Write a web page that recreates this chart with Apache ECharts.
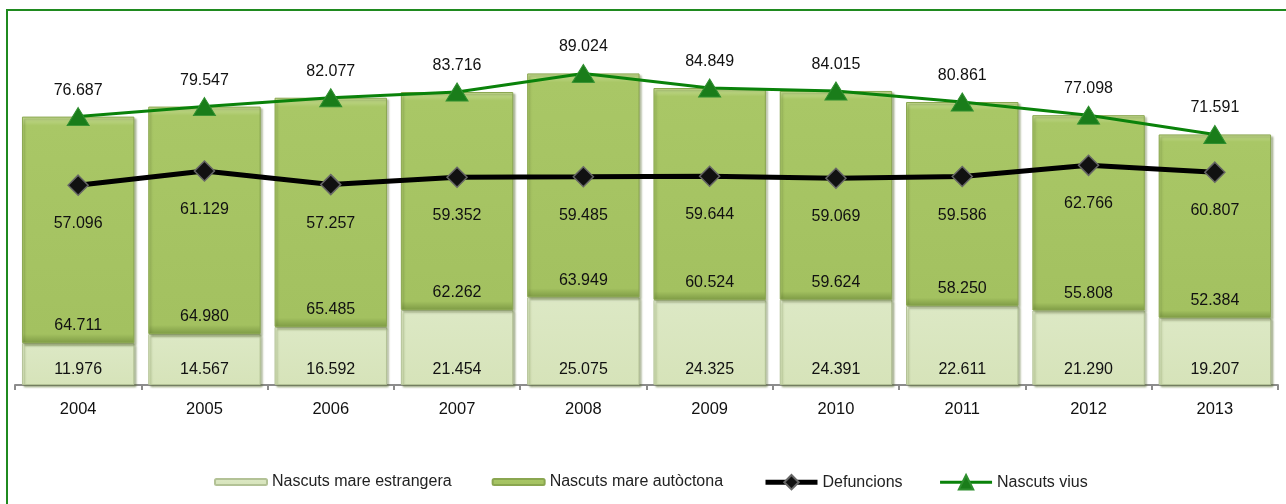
<!DOCTYPE html>
<html>
<head>
<meta charset="utf-8">
<script src="https://cdn.jsdelivr.net/npm/echarts@6/dist/echarts.min.js"></script>
<style>
  html, body { margin: 0; padding: 0; background: #fff; }
  #chart { width: 1286px; height: 504px; }
</style>
</head>
<body>
<div id="chart"></div>
<script>
'use strict';

var years = ['2004', '2005', '2006', '2007', '2008', '2009', '2010', '2011', '2012', '2013'];
var nascutsEstrangera = [11976, 14567, 16592, 21454, 25075, 24325, 24391, 22611, 21290, 19207];
var nascutsAutoctona = [64711, 64980, 65485, 62262, 63949, 60524, 59624, 58250, 55808, 52384];
var defuncions = [57096, 61129, 57257, 59352, 59485, 59644, 59069, 59586, 62766, 60807];
var nascutsVius = [76687, 79547, 82077, 83716, 89024, 84849, 84015, 80861, 77098, 71591];

var labelFont = 'Liberation Sans';

function fmt(v) {
  return String(v).replace(/\B(?=(\d{3})+(?!\d))/g, '.');
}

var dom = document.getElementById('chart');
var myChart = echarts.init(dom);

var legendText = { fontFamily: labelFont, fontSize: 16, color: '#222' };

var option = {
  animation: false,
  backgroundColor: '#fff',
  graphic: [{
    type: 'rect',
    shape: { x: 7, y: 10, width: 1300, height: 520 },
    style: { fill: 'none', stroke: '#1f8a1f', lineWidth: 2 },
    z: 100
  }],
  legend: [{
    left: 214,
    top: 474,
    padding: 0,
    itemWidth: 52,
    itemHeight: 6,
    itemGap: 40,
    textStyle: legendText,
    data: ['Nascuts mare estrangera', 'Nascuts mare autòctona']
  }, {
    left: 763,
    top: 474,
    padding: 0,
    itemWidth: 52,
    itemHeight: 18,
    itemGap: 36,
    textStyle: legendText,
    data: [
      { name: 'Defuncions', lineStyle: { width: 5, color: '#000' } },
      { name: 'Nascuts vius', lineStyle: { width: 3, color: '#0a820a' } }
    ]
  }],
  grid: { left: 15, right: 8, top: 35, bottom: 119 },
  xAxis: {
    type: 'category',
    data: years,
    axisLine: { lineStyle: { color: '#8c8c8c', width: 2 } },
    axisTick: { show: true, length: 5, lineStyle: { color: '#8c8c8c', width: 2 } },
    axisLabel: { color: '#111', fontFamily: labelFont, fontSize: 16.5, margin: 16 }
  },
  yAxis: {
    type: 'value',
    min: 0,
    max: 100000,
    show: false,
    splitLine: { show: false }
  },
  series: [{
    name: 'Nascuts mare estrangera',
    type: 'bar',
    stack: 'nascuts',
    barCategoryGap: '11%',
    data: nascutsEstrangera,
    itemStyle: {
      color: new echarts.graphic.LinearGradient(0, 0, 0, 1, [
        { offset: 0, color: '#f1f6e4' },
        { offset: 0.06, color: '#dce8c4' },
        { offset: 1, color: '#d6e3b9' }
      ]),
      borderColor: '#b3c296',
      borderWidth: 1,
      shadowColor: 'rgba(90,110,50,0.45)',
      shadowOffsetX: 2,
      shadowOffsetY: 2,
      shadowBlur: 2
    },
    label: {
      show: true,
      position: 'insideBottom',
      distance: 7,
      color: '#111',
      fontFamily: labelFont,
      fontSize: 16,
      formatter: function(p) { return fmt(p.value); }
    }
  }, {
    name: 'Nascuts mare autòctona',
    type: 'bar',
    stack: 'nascuts',
    data: nascutsAutoctona,
    itemStyle: {
      color: new echarts.graphic.LinearGradient(0, 0, 0, 1, [
        { offset: 0, color: '#c6dc94' },
        { offset: 0.04, color: '#a9c766' },
        { offset: 0.96, color: '#a3c160' },
        { offset: 1, color: '#7e9b45' }
      ]),
      borderColor: '#8aa650',
      borderWidth: 1,
      shadowColor: 'rgba(90,110,50,0.45)',
      shadowOffsetX: 2,
      shadowOffsetY: 2,
      shadowBlur: 2
    },
    label: {
      show: true,
      position: 'insideBottom',
      distance: 9,
      color: '#111',
      fontFamily: labelFont,
      fontSize: 16,
      formatter: function(p) { return fmt(p.value); }
    }
  }, {
    name: 'Defuncions',
    type: 'line',
    data: defuncions,
    z: 5,
    symbol: 'diamond',
    symbolSize: [20, 20],
    lineStyle: { color: '#000', width: 5 },
    itemStyle: { color: '#111', borderColor: '#666', borderWidth: 1.5 },
    label: {
      show: true,
      position: 'bottom',
      distance: 20,
      color: '#111',
      fontFamily: labelFont,
      fontSize: 16,
      formatter: function(p) { return fmt(p.value); }
    }
  }, {
    name: 'Nascuts vius',
    type: 'line',
    data: nascutsVius,
    z: 6,
    symbol: 'triangle',
    symbolSize: [22, 18],
    lineStyle: { color: '#0a820a', width: 3 },
    itemStyle: { color: '#1a7d1a', borderColor: '#2f8f2f', borderWidth: 1 },
    label: {
      show: true,
      position: 'top',
      distance: 9,
      color: '#111',
      fontFamily: labelFont,
      fontSize: 16,
      formatter: function(p) { return fmt(p.value); }
    }
  }]
};

myChart.setOption(option);
</script>
</body>
</html>
